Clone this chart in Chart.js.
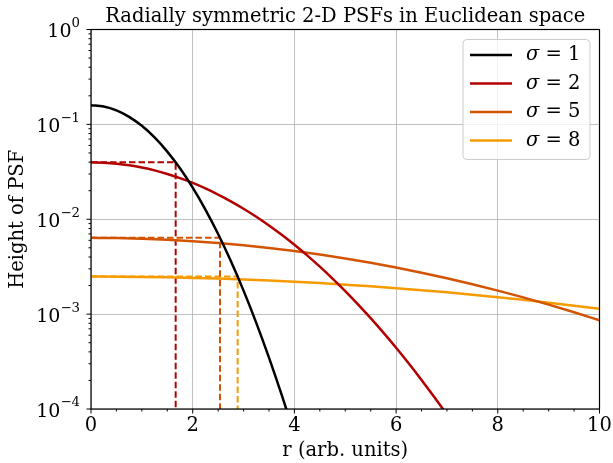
<!DOCTYPE html>
<html>
<head>
<meta charset="utf-8">
<script src="https://cdn.jsdelivr.net/npm/chart.js@4.4.1/dist/chart.umd.min.js"></script>
<style>
  html, body { margin: 0; padding: 0; background: #fff; }
  #wrap { width: 613px; height: 463px; }
</style>
</head>
<body>
<div id="wrap"><canvas id="chart" width="613" height="463"></canvas></div>
<script>
// radius samples (arb. units)
const radiusFine = [0, 0.25, 0.5, 0.75, 1, 1.25, 1.5, 1.75, 2, 2.25, 2.5, 2.75, 3, 3.25, 3.5, 3.75, 4, 4.25, 4.5,
  4.75, 5, 5.25, 5.5, 5.75, 6, 6.25, 6.5, 6.75, 7, 7.25, 7.5];
const radius = [0, 0.5, 1, 1.5, 2, 2.5, 3, 3.5, 4, 4.5, 5, 5.5, 6, 6.5, 7, 7.5, 8, 8.5, 9, 9.5, 10];

// PSF heights
const heightSigma1 = [0.15916, 0.15426, 0.14045, 0.12014, 0.096532, 0.072866, 0.05167, 0.03442, 0.021539, 0.012662,
  0.0069928, 0.0036278, 0.0017681, 0.0008095, 0.00034815, 0.00014067, 0.000053391, 0.00001904, 0.0000063766];
const heightSigma2 = [0.039789, 0.039479, 0.038565, 0.037087, 0.035113, 0.032729, 0.030034, 0.027134, 0.024133, 0.021131,
  0.018217, 0.015461, 0.012917, 0.010626, 0.0086049, 0.0068606, 0.0053848, 0.0041614, 0.0031656, 0.0023705,
  0.0017482, 0.0012689, 0.00090694, 0.00063802, 0.00044202, 0.00030136, 0.00020237, 0.00013373, 0.000087038,
  0.000055737, 0.000035167];
const heightSigma5 = [0.0063662, 0.0063344, 0.0062401, 0.0060861, 0.0058767, 0.0056181, 0.0053175, 0.0049829, 0.0046228, 0.0042461,
  0.0038613, 0.0034764, 0.0030988, 0.0027347, 0.0023893, 0.0020668, 0.00177, 0.0015008, 0.0012599, 0.0010471, 0.00086157];
const heightSigma8 = [0.0024868, 0.0024819, 0.0024674, 0.0024435, 0.0024103, 0.0023683, 0.0023179, 0.0022598, 0.0021946, 0.0021229,
  0.0020456, 0.0019634, 0.0018771, 0.0017877, 0.0016958, 0.0016025, 0.0015083, 0.0014141, 0.0013207, 0.0012286, 0.0011385];

const seriesLabels = ['1', '2', '5', '8'];
const seriesColors = ['#000000', '#b30000', '#d35400', '#f59b00'];

// dashed markers: peak height of sigma 2/5/8 and where the sigma=1 curve reaches it
const cutRadius = [1.665, 2.537, 2.884];
const cutHeight = [0.039789, 0.0063662, 0.0024868];
const cutColors = ['#b30000', '#d35400', '#f59b00'];

const xTicks = [0, 2, 4, 6, 8, 10];
const xMinorTicks = [0.5, 1, 1.5, 2.5, 3, 3.5, 4.5, 5, 5.5, 6.5, 7, 7.5, 8.5, 9, 9.5];
const yTicks = [1e-4, 1e-3, 1e-2, 1e-1, 1];
const yTickExponents = ['−4', '−3', '−2', '−1', '0'];

const TITLE = 'Radially symmetric 2-D PSFs in Euclidean space';
const FONT = "'DejaVu Serif', serif";
const FS = 19.5;

const toPoints = (xs, ys) => ys.map((y, i) => ({ x: xs[i], y }));

const curveData = [
  toPoints(radiusFine, heightSigma1),
  toPoints(radiusFine, heightSigma2),
  toPoints(radius, heightSigma5),
  toPoints(radius, heightSigma8),
];

const curves = curveData.map((pts, i) => ({
  label: seriesLabels[i],
  data: pts,
  borderColor: seriesColors[i],
  borderWidth: 2.5,
  pointRadius: 0,
  cubicInterpolationMode: 'monotone',
  fill: false,
}));

const dashes = cutRadius.map((r, i) => ({
  label: 'cut' + i,
  data: [{ x: 0, y: cutHeight[i] }, { x: r, y: cutHeight[i] }, { x: r, y: yTicks[0] }],
  borderColor: cutColors[i],
  borderWidth: 2,
  borderDash: [6.5, 3],
  pointRadius: 0,
  tension: 0,
  fill: false,
}));

// frame, ticks, log labels, title and legend, drawn on top like matplotlib
const framePlugin = {
  id: 'frame',
  afterDatasetsDraw(chart) {
    const { ctx, chartArea: a, scales } = chart;
    const xs = scales.x, ys = scales.y;
    ctx.save();
    ctx.strokeStyle = '#000';
    ctx.lineWidth = 1.2;
    ctx.strokeRect(a.left, a.top, a.right - a.left, a.bottom - a.top);

    ctx.lineWidth = 1;
    ctx.beginPath();
    xTicks.forEach(v => { const p = xs.getPixelForValue(v); ctx.moveTo(p, a.bottom); ctx.lineTo(p, a.bottom + 4.5); });
    xMinorTicks.forEach(v => { const p = xs.getPixelForValue(v); ctx.moveTo(p, a.bottom); ctx.lineTo(p, a.bottom + 2.5); });
    yTicks.forEach(v => { const p = ys.getPixelForValue(v); ctx.moveTo(a.left, p); ctx.lineTo(a.left - 4.5, p); });
    for (let e = -4; e < 0; e++) {
      for (let m = 2; m <= 9; m++) {
        const p = ys.getPixelForValue(m * Math.pow(10, e));
        ctx.moveTo(a.left, p); ctx.lineTo(a.left - 2.5, p);
      }
    }
    ctx.stroke();

    // y tick labels as 10 with raised exponent
    ctx.fillStyle = '#000';
    ctx.textBaseline = 'alphabetic';
    ctx.textAlign = 'right';
    yTicks.forEach((v, i) => {
      const p = ys.getPixelForValue(v);
      const right = a.left - 11;
      ctx.font = '13.3px ' + FONT;
      const ew = ctx.measureText(yTickExponents[i]).width;
      ctx.fillText(yTickExponents[i], right, p - 2.6);
      ctx.font = '19px ' + FONT;
      ctx.fillText('10', right - ew, p + 7.5);
    });

    // title centred over the axes
    ctx.textAlign = 'center';
    ctx.font = FS + 'px ' + FONT;
    ctx.fillText(TITLE, (a.left + a.right) / 2, 22);

    // legend box
    const bx = 463, by = 39.5, bw = 127, bh = 120, rad = 4;
    ctx.beginPath();
    ctx.roundRect(bx, by, bw, bh, rad);
    ctx.fillStyle = 'rgba(255,255,255,0.8)';
    ctx.fill();
    ctx.strokeStyle = '#cccccc';
    ctx.lineWidth = 1;
    ctx.stroke();

    const rowY = [55, 83.5, 112, 140.5];
    seriesLabels.forEach((lab, i) => {
      ctx.beginPath();
      ctx.strokeStyle = seriesColors[i];
      ctx.lineWidth = 2.5;
      ctx.moveTo(470, rowY[i]);
      ctx.lineTo(512, rowY[i]);
      ctx.stroke();
      ctx.fillStyle = '#000';
      ctx.textBaseline = 'middle';
      ctx.textAlign = 'left';
      ctx.font = 'italic ' + FS + 'px ' + FONT;
      ctx.fillText('σ', 526, rowY[i]);
      const w = ctx.measureText('σ').width;
      ctx.font = FS + 'px ' + FONT;
      ctx.fillText(' = ' + lab, 526 + w, rowY[i]);
    });
    ctx.restore();
  }
};

new Chart(document.getElementById('chart'), {
  type: 'line',
  data: { datasets: [...curves, ...dashes] },
  options: {
    responsive: false,
    animation: false,
    layout: { padding: { left: 0, right: 13.5, top: 29.5, bottom: 0 } },
    plugins: {
      legend: { display: false },
      tooltip: { enabled: false },
      title: { display: false },
    },
    scales: {
      x: {
        type: 'linear',
        min: 0,
        max: 10,
        afterBuildTicks: (s) => { s.ticks = xTicks.map(v => ({ value: v })); },
        afterFit: (s) => { s.height = 54; s.paddingLeft = 0; s.paddingRight = 0; },
        ticks: { color: '#000', font: { family: FONT, size: FS }, padding: 5, maxRotation: 0 },
        grid: { color: '#b0b0b0', lineWidth: 0.8, drawTicks: false },
        border: { display: false },
        title: {
          display: true,
          text: 'r (arb. units)',
          color: '#000',
          font: { family: FONT, size: FS },
          padding: { top: 0, bottom: 0 },
        },
      },
      y: {
        type: 'logarithmic',
        min: 1e-4,
        max: 1,
        afterBuildTicks: (s) => { s.ticks = yTicks.map(v => ({ value: v })); },
        afterFit: (s) => { s.width = 91; s.paddingTop = 0; s.paddingBottom = 0; },
        ticks: { display: false },
        grid: { color: '#b0b0b0', lineWidth: 0.8, drawTicks: false },
        border: { display: false },
        title: {
          display: true,
          text: 'Height of PSF',
          color: '#000',
          font: { family: FONT, size: FS },
          padding: { top: 6, bottom: 0 },
        },
      },
    },
  },
  plugins: [framePlugin],
});
</script>
</body>
</html>
